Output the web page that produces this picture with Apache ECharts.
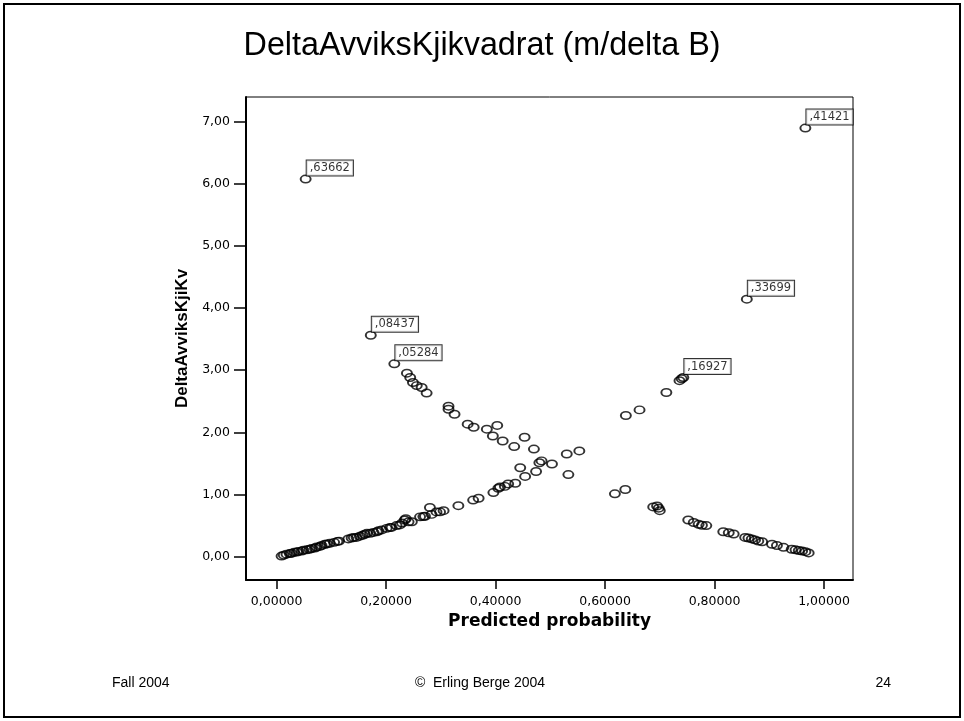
<!DOCTYPE html>
<html>
<head>
<meta charset="utf-8">
<script src="https://cdn.jsdelivr.net/npm/echarts@6/dist/echarts.min.js"></script>
<style>
html,body{margin:0;padding:0;background:#fff;}
#chart{width:964px;height:721px;}
</style>
</head>
<body>
<div id="chart"></div>
<script>
// ---- data ----
const titleText = 'DeltaAvviksKjikvadrat (m/delta B)';
const xAxisTitle = 'Predicted probability';
const yAxisTitle = 'DeltaAvviksKjiKv';
const xTicks = [0, 0.2, 0.4, 0.6, 0.8, 1.0];
const yTicks = [0, 1, 2, 3, 4, 5, 6, 7];
const footerLeft = 'Fall 2004';
const footerCenter = '\u00A9  Erling Berge 2004';
const footerRight = '24';

// points without labels: predicted probability / delta deviance chi-square
const probs = [
  0.238,0.244,0.249,0.256,0.265,0.274,0.314,0.314,0.325,0.349,0.360,0.384,0.403,0.395,0.413,0.434,0.453,0.470,0.480,0.484,
  0.503,0.530,0.553,0.533,0.618,0.637,0.688,0.695,0.700,0.698,0.752,0.762,0.771,0.777,0.785,0.816,0.826,0.835,0.856,0.862,
  0.868,0.874,0.880,0.887,0.905,0.914,0.926,0.941,0.948,0.954,0.960,0.966,0.972,
  0.009,0.013,0.018,0.024,0.027,0.032,0.037,0.040,0.046,0.049,0.055,0.060,0.064,0.070,0.073,0.079,0.082,0.088,0.092,0.097,
  0.105,0.111,0.114,0.131,0.137,0.141,0.146,0.152,0.157,0.161,0.165,0.171,0.177,0.183,0.186,0.192,0.201,0.207,0.210,0.219,
  0.225,0.229,0.234,0.236,0.241,0.247,0.262,0.268,0.271,0.280,0.283,0.292,0.2985,0.305,0.332,0.359,0.369,0.396,0.405,0.408,
  0.417,0.423,0.436,0.445,0.454,0.474,0.638,0.663,0.712,0.736,0.740
];
const deltas = [
  2.95,2.88,2.80,2.75,2.72,2.63,2.42,2.37,2.29,2.13,2.08,2.05,2.11,1.94,1.86,1.77,1.92,1.73,1.51,1.54,
  1.49,1.65,1.70,1.32,1.01,1.08,0.80,0.815,0.74,0.78,0.59,0.55,0.52,0.505,0.50,0.40,0.385,0.365,0.31,0.30,
  0.285,0.27,0.25,0.24,0.20,0.18,0.15,0.12,0.11,0.10,0.09,0.08,0.06,
  0.01,0.025,0.04,0.05,0.055,0.07,0.075,0.085,0.09,0.105,0.11,0.12,0.13,0.14,0.155,0.165,0.18,0.20,0.205,0.215,
  0.23,0.245,0.25,0.285,0.30,0.31,0.31,0.33,0.345,0.36,0.375,0.375,0.39,0.40,0.415,0.43,0.455,0.47,0.47,0.50,
  0.51,0.54,0.59,0.61,0.56,0.56,0.64,0.645,0.65,0.79,0.68,0.72,0.72,0.74,0.82,0.91,0.94,1.03,1.10,1.12,
  1.13,1.17,1.18,1.43,1.29,1.37,2.27,2.36,2.64,2.83,2.86
];

// labelled points
const labeledProbs = [0.053, 0.966, 0.859, 0.172, 0.215, 0.743];
const labeledDeltas = [6.07, 6.89, 4.14, 3.56, 3.10, 2.88];
const labelTexts = [',63662', ',41421', ',33699', ',08437', ',05284', ',16927'];

// ---- chart ----
const chart = echarts.init(document.getElementById('chart'), null, {renderer: 'canvas'});

const fmtX = v => v.toFixed(5).replace('.', ',');
const fmtY = v => v.toFixed(2).replace('.', ',');

const mainData = probs.map((p, i) => [p, deltas[i]]);
const labData = labeledProbs.map((p, i) => ({value: [p, labeledDeltas[i]], name: labelTexts[i]}));

const markerStyle = {color: 'rgba(0,0,0,0)', borderColor: '#000', borderWidth: 1.7};

chart.setOption({
  backgroundColor: '#fff',
  animation: false,
  grid: {
    left: 246, right: 111, top: 97, bottom: 141,
    show: true, borderColor: '#000', borderWidth: 1, backgroundColor: '#fff'
  },
  xAxis: {
    type: 'value', min: -0.056, max: 1.053,
    splitLine: {show: false},
    axisLine: {show: true, onZero: false, lineStyle: {color: '#000', width: 2}},
    axisTick: {show: true, customValues: xTicks, length: 9, lineStyle: {color: '#000', width: 1.5}},
    axisLabel: {customValues: xTicks, formatter: fmtX, color: '#000', fontSize: 12.5,
      fontFamily: 'DejaVu Sans', margin: 15},
    name: xAxisTitle, nameLocation: 'middle', nameGap: 33,
    nameTextStyle: {color: '#000', fontSize: 17, fontWeight: 'bold', fontFamily: 'DejaVu Sans'}
  },
  yAxis: {
    type: 'value', min: -0.375, max: 7.39,
    splitLine: {show: false},
    axisLine: {show: true, onZero: false, lineStyle: {color: '#000', width: 2}},
    axisTick: {show: true, customValues: yTicks, length: 12, lineStyle: {color: '#000', width: 1.5}},
    axisLabel: {customValues: yTicks, formatter: fmtY, color: '#000', fontSize: 12.5,
      fontFamily: 'DejaVu Sans', margin: 16},
    name: yAxisTitle, nameLocation: 'middle', nameGap: 52,
    nameTextStyle: {color: '#000', fontSize: 17, fontWeight: 'bold', fontFamily: 'Liberation Sans'}
  },
  series: [
    {
      type: 'scatter', data: mainData, symbol: 'circle', symbolSize: [10, 7.5],
      itemStyle: markerStyle, z: 2
    },
    {
      type: 'scatter', data: labData, symbol: 'circle', symbolSize: [10, 7.5],
      itemStyle: markerStyle, z: 3,
      label: {
        show: true, formatter: p => p.name, position: [7, -14],
        color: '#000', fontSize: 11.5, fontFamily: 'DejaVu Sans', lineHeight: 13,
        backgroundColor: '#fff', borderColor: '#000', borderWidth: 1, padding: [1, 3, 1, 3]
      }
    }
  ],
  graphic: [
    {type: 'rect', shape: {x: 4, y: 4, width: 956, height: 713},
      style: {fill: 'none', stroke: '#000', lineWidth: 2}, z: 10, silent: true},
    {type: 'text', x: 482, y: 46, scaleX: 0.95, scaleY: 1, style: {text: titleText, fill: '#000',
      font: '34px "Liberation Sans", Arial, sans-serif', textAlign: 'center', textVerticalAlign: 'middle'}},
    {type: 'text', x: 112, y: 683, style: {text: footerLeft, fill: '#000',
      font: '14px "Liberation Sans", Arial, sans-serif', textAlign: 'left', textVerticalAlign: 'middle'}},
    {type: 'text', x: 480, y: 683, style: {text: footerCenter, fill: '#000',
      font: '14px "Liberation Sans", Arial, sans-serif', textAlign: 'center', textVerticalAlign: 'middle'}},
    {type: 'text', x: 891, y: 683, style: {text: footerRight, fill: '#000',
      font: '14px "Liberation Sans", Arial, sans-serif', textAlign: 'right', textVerticalAlign: 'middle'}}
  ]
});
</script>
</body>
</html>
